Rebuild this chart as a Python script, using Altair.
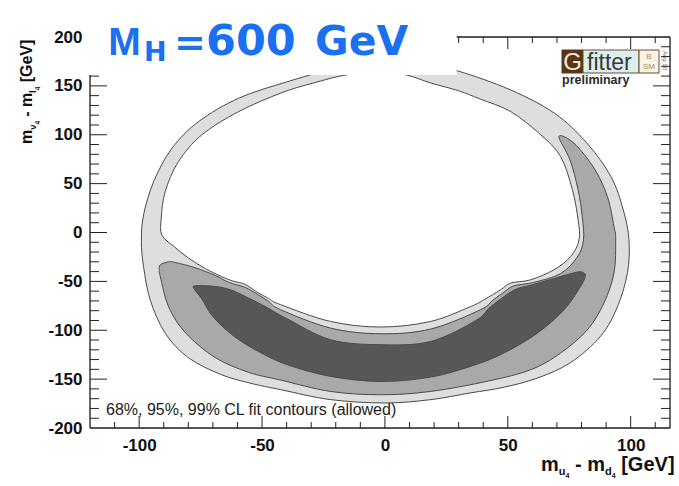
import altair as alt
import pandas as pd

# ---- contour outlines (x = m_u4 - m_d4, y = m_nu4 - m_l4, in GeV) ----
# outer edge of the 99% CL band
outer_x = [0, 15, 30, 51, 69, 82, 92, 97, 99.3, 98.7, 94.6, 87.8, 75.6, 62, 48, 35, 18.6, 0,
           -22, -42, -55, -67, -80, -89.4, -95.5, -98.2, -99.1, -98.2, -94.1, -86.7, -75.8,
           -59.5, -40, -20]
outer_y = [176, 173, 165, 146, 122, 92, 57, 23, -7.5, -41, -76, -106, -133, -149, -158.5, -164,
           -171, -174.4, -171, -161, -154, -145, -128, -103, -69, -35, -9, 18, 52, 86, 113.5,
           137.4, 154, 168]

# excluded region enclosed by the 99% CL band
hole_x = [0, 9, 18.6, 30, 38.9, 51.2, 63.4, 71.5, 76.3, 78.6, 79, 75.6, 68.8, 59.3, 51.2, 47.1,
          40.3, 34.9, 18.6, -1.7, -22.1, -42.4, -47.3, -52, -57, -62, -66.5, -73, -80, -86,
          -90.8, -91, -89.4, -84, -74.5, -59.5, -42, -29, -15]
hole_y = [164, 161, 153, 145, 136.4, 123.7, 100, 77.7, 43.7, 13, -7.5, -24.5, -38.1, -48.4,
          -51.7, -58.6, -68.8, -75.7, -91, -96.7, -91, -73.9, -67.5, -61, -53, -49.5, -45, -37,
          -26, -14, -2.4, 14.7, 41.9, 72.6, 99.9, 123.7, 143, 153, 161.5]

# 95% CL region
cl95_x = [70.8, 76.9, 85.1, 90.5, 93.2, 93.9, 93.2, 89.1, 82.4, 71.5, 59.3, 42, 18.6, -1.7,
          -22.1, -42.4, -55.5, -69, -81, -88, -91.4, -91.8, -91.4, -88, -85.3, -77.2, -69,
          -63.5, -57, -52, -47.3, -42.4, -22.1, -1.7, 18.6, 38.9, 44, 49, 52.5, 60.6, 71.5,
          78.3, 80.8, 80.3, 78.6, 75.3]
cl95_y = [98.2, 91.4, 65.8, 37, 6.1, -7.5, -41.5, -72.2, -99.5, -123.3, -140.4, -152, -162.6,
          -166, -162.6, -151, -143, -128, -103, -76, -45, -38, -33, -30, -30.7, -36, -44, -51,
          -56, -63, -70.5, -79, -97.8, -103.6, -98.8, -79, -69, -60, -54.5, -51, -42, -25,
          -7.5, 16.4, 43.7, 74.3]

# 68% CL region
cl68_x = [-77.2, -69, -63, -58.2, -48.7, -40, -22.1, -1.7, 18.6, 37, 43, 52.5, 59.3, 68.8,
          78.3, 81, 81.5, 79.6, 72.9, 62, 48.4, 36, 18.6, -1.7, -22.1, -40, -52, -62,
          -70, -74.5, -77.5]
cl68_y = [-54.5, -55.2, -58.5, -63.7, -75.7, -88, -109.7, -114.8, -111.5, -90, -76, -59, -54,
          -47, -40.5, -41.5, -45, -55.2, -79, -103, -123.3, -136, -147.9, -152.4, -147.2, -135,
          -121, -105, -86, -68, -58]

# ---- axis ticks ----
x_labels = [-100, -50, 0, 50, 100]
x_minor = [-110, -90, -80, -70, -60, -40, -30, -20, -10, 10, 20, 30, 40, 60, 70, 80, 90, 110]
y_labels = [-200, -150, -100, -50, 0, 50, 100, 150, 200]
y_major = [-150, -100, -50, 0, 50, 100, 150]
y_minor = [v for v in range(-190, 200, 10) if v % 50 != 0]

W, H = 580, 391
xs = alt.Scale(domain=[-120, 116], nice=False, zero=False)
ys = alt.Scale(domain=[-200, 200], nice=False, zero=False)
LINE = "#4a4a4a"
FONT = "Liberation Sans"

X_AXIS = alt.Axis(values=x_labels, tickSize=0, domain=False, grid=False, labelFont=FONT,
                  labelFontWeight="bold", labelFontSize=17, labelColor="#111",
                  labelPadding=9, title=None, labelExpr="'' + datum.value")
Y_AXIS = alt.Axis(values=y_labels, tickSize=0, domain=False, grid=False, labelFont=FONT,
                  labelFontWeight="bold", labelFontSize=17, labelColor="#111",
                  labelPadding=8, title=None, labelExpr="'' + datum.value")


def region(px, py, fill):
    df = pd.DataFrame({"x": px, "y": py, "i": list(range(len(px)))})
    return alt.Chart(df).mark_line(
        fill=fill, stroke=LINE, strokeWidth=1, interpolate="cardinal-closed"
    ).encode(
        x=alt.X("x:Q", scale=xs, axis=X_AXIS),
        y=alt.Y("y:Q", scale=ys, axis=Y_AXIS),
        order="i:Q",
    )


def xticks(vals, top, length):
    df = pd.DataFrame({"x": vals})
    y0 = 0 if top else H
    y1 = length if top else H - length
    return alt.Chart(df).mark_rule(color="#222", strokeWidth=1).encode(
        x=alt.X("x:Q", scale=xs, axis=X_AXIS), y=alt.value(y0), y2=alt.value(y1))


def yticks(vals, right, length):
    df = pd.DataFrame({"y": vals})
    x0 = W if right else 0
    x1 = W - length if right else length
    return alt.Chart(df).mark_rule(color="#222", strokeWidth=1).encode(
        y=alt.Y("y:Q", scale=ys, axis=Y_AXIS), x=alt.value(x0), x2=alt.value(x1))


one = pd.DataFrame({"a": [0]})


def hline(y, x0, x1, color="#222", width=1.3):
    return alt.Chart(one).mark_rule(color=color, strokeWidth=width).encode(
        y=alt.value(y), x=alt.value(x0), x2=alt.value(x1))


def vline(x, y0, y1, color="#222", width=1.3):
    return alt.Chart(one).mark_rule(color=color, strokeWidth=width).encode(
        x=alt.value(x), y=alt.value(y0), y2=alt.value(y1))


def box(x0, x1, y0, y1, fill, stroke=None):
    kw = {"fill": fill}
    if stroke:
        kw.update(stroke=stroke, strokeWidth=1)
    return alt.Chart(one).mark_rect(**kw).encode(
        x=alt.value(x0), x2=alt.value(x1), y=alt.value(y0), y2=alt.value(y1))


def txt(s, x, y, size, color="#111", weight="normal", font=FONT, align="left", angle=0,
        baseline="alphabetic"):
    kw = dict(text=s, fontSize=size, color=color, fontWeight=weight, font=font, align=align,
              baseline=baseline)
    if angle:
        kw["angle"] = angle
    return alt.Chart(one).mark_text(**kw).encode(x=alt.value(x), y=alt.value(y))


BLUE = "#1a70f0"

layers = [
    region(outer_x, outer_y, "#dedede"),
    region(hole_x, hole_y, "#ffffff"),
    region(cl95_x, cl95_y, "#a9a9a9"),
    region(cl68_x, cl68_y, "#575757"),
    # inward ticks on all four sides
    xticks(x_labels, False, 12), xticks(x_minor, False, 6),
    xticks(x_labels, True, 12), xticks(x_minor, True, 6),
    yticks(y_major, False, 17), yticks(y_minor, False, 9),
    yticks(y_major, True, 17), yticks(y_minor, True, 9),
    # frame
    hline(0, 0, W), hline(H, 0, W), vline(0, 0, H), vline(W, 0, H),
    # title panel
    box(-3, 366.7, -37, 38, "#ffffff"),
    txt("M", 18.3, 18, 39, color=BLUE, weight="bold"),
    txt("H", 54, 23.5, 27, color=BLUE, weight="bold", font="DejaVu Sans"),
    txt("=", 100, 18, 38, color=BLUE, weight="bold", font="DejaVu Sans", align="center"),
    txt("600", 116, 18, 43, color=BLUE, weight="bold", font="DejaVu Sans"),
    txt("GeV", 225, 18, 41, color=BLUE, weight="bold", font="DejaVu Sans"),
    # Gfitter logo
    box(472, 493, 13, 36, "#5b3416", "#5b3416"),
    box(493, 549, 13, 36, "#dcefef", "#6b4a2a"),
    box(549, 569, 13, 36, "#faf3e6", "#6b4a2a"),
    txt("G", 482.5, 33, 24, color="#f3ead4", align="center"),
    txt("fitter", 497, 33, 23, color="#3a3a3a"),
    txt("B", 559, 22, 8, color="#b08a5a", align="center"),
    txt("SM", 559, 32, 8, color="#b08a5a", align="center"),
    txt("Aug 10", 573, 14, 6, color="#666", angle=90),
    txt("preliminary", 472, 47, 12.5, color="#2a2a2a", weight="bold"),
    # legend note
    txt("68%, 95%, 99% CL fit contours (allowed)", 16, 378, 16, color="#222"),
    # x-axis title: m_{u_4} - m_{d_4} [GeV]
    txt("m", 451, 434, 20, weight="bold"),
    txt("u", 468.8, 438, 11, weight="bold"),
    txt("4", 475.5, 441, 7, weight="bold"),
    txt("- m", 485, 434, 20, weight="bold"),
    txt("d", 515, 438, 11, weight="bold"),
    txt("4", 521.7, 441, 7, weight="bold"),
    txt("[GeV]", 531.2, 434, 20, weight="bold"),
    # y-axis title: m_{nu_4} - m_{l_4} [GeV]  (reads bottom to top)
    txt("m", -58.3, 107, 16, weight="bold", angle=270),
    txt("\u03bd", -54, 92.8, 9.5, weight="bold", angle=270),
    txt("4", -50.5, 87.5, 6.5, weight="bold", angle=270),
    txt("- m", -58.3, 79.7, 16, weight="bold", angle=270),
    txt("l", -54, 55.9, 9.5, weight="bold", angle=270),
    txt("4", -50.5, 53.3, 6.5, weight="bold", angle=270),
    txt("[GeV]", -58.3, 45.3, 16, weight="bold", angle=270),
]

chart = alt.layer(*layers).properties(
    width=W, height=H,
    padding={"left": 90, "top": 37, "right": 9, "bottom": 58},
    autosize=alt.AutoSizeParams(type="none"),
).configure_view(stroke=None).configure(background="white")

chart.save("out.html", embed_options={"renderer": "svg", "actions": False})
